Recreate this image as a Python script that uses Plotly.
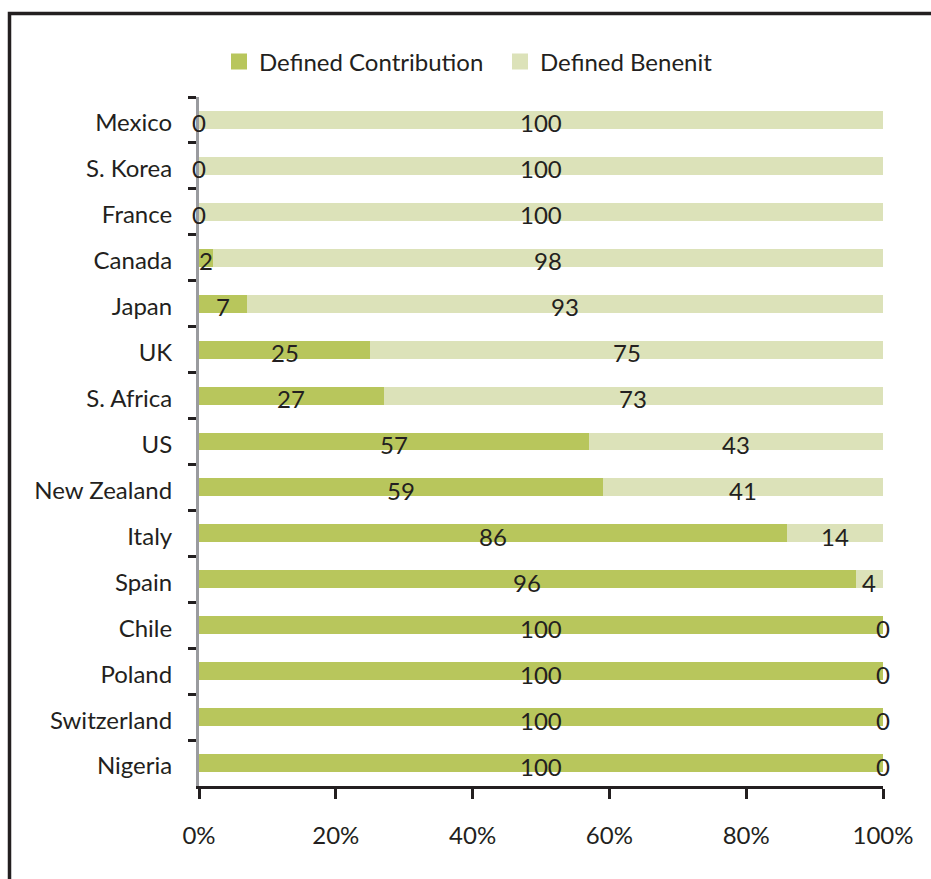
import plotly.graph_objects as go

# Share of pension assets by plan type, per country (percent)
countries = ["Mexico", "S. Korea", "France", "Canada", "Japan", "UK", "S. Africa",
             "US", "New Zealand", "Italy", "Spain", "Chile", "Poland",
             "Switzerland", "Nigeria"]
defined_contribution = [0, 0, 0, 2, 7, 25, 27, 57, 59, 86, 96, 100, 100, 100, 100]
defined_benefit = [100, 100, 100, 98, 93, 75, 73, 43, 41, 14, 4, 0, 0, 0, 0]
x_ticks = [0, 20, 40, 60, 80, 100]
x_tick_labels = ["0%", "20%", "40%", "60%", "80%", "100%"]
series_names = ["Defined Contribution", "Defined Benenit"]

DC_COLOR = "#B8C65C"
DB_COLOR = "#DCE2B9"
TEXT = "#231F20"
FONT = "Lato"
FS = 24

W, H = 931, 879
ML, MR, MT, MB = 199, 48, 97, 93
pw, ph = W - ML - MR, H - MT - MB

fig = go.Figure()
for name, vals, col in ((series_names[0], defined_contribution, DC_COLOR),
                        (series_names[1], defined_benefit, DB_COLOR)):
    fig.add_trace(go.Bar(y=countries, x=vals, orientation="h", name=name,
                         marker=dict(color=col, line_width=0), showlegend=False))

# value labels centred on each segment
dc_mid = [v / 2 for v in defined_contribution]
db_mid = [c + b / 2 for c, b in zip(defined_contribution, defined_benefit)]
for xs, vals in ((dc_mid, defined_contribution), (db_mid, defined_benefit)):
    for x, y, v in zip(xs, countries, vals):
        fig.add_annotation(x=x, y=y, text=str(v), showarrow=False,
                           xanchor="center", yanchor="middle", yshift=-3,
                           font=dict(family=FONT, size=FS, color=TEXT))

# legend entries with square swatches
for name, col in ((series_names[0], DC_COLOR), (series_names[1], DB_COLOR)):
    fig.add_trace(go.Scatter(x=[None], y=[None], mode="markers", name=name,
                             marker=dict(symbol="square", size=16, color=col),
                             showlegend=True))

# outer frame (extends past the right and bottom edges)
fx0 = (9.5 - ML) / pw
fy1 = 1 + (MT - 13.5) / ph
fig.add_shape(type="rect", xref="paper", yref="paper", x0=fx0, x1=3, y0=-3, y1=fy1,
              line=dict(color=TEXT, width=3.5), fillcolor="rgba(0,0,0,0)", layer="below")

fig.update_layout(
    width=W, height=H,
    margin=dict(l=ML, r=MR, t=MT, b=MB),
    barmode="stack", bargap=0.61,
    plot_bgcolor="white", paper_bgcolor="white",
    font=dict(family=FONT, size=FS, color=TEXT),
    legend=dict(orientation="h", x=(219 - ML) / pw, xanchor="left",
                y=1 + (MT - 62) / ph, yanchor="middle",
                font=dict(family=FONT, size=FS, color=TEXT),
                entrywidth=236, entrywidthmode="pixels",
                traceorder="normal"),
    showlegend=True,
    xaxis=dict(range=[0, 100], tickvals=x_ticks, ticktext=x_tick_labels,
               showgrid=False, zeroline=False, showline=True, linecolor=TEXT,
               linewidth=3, ticks="outside", ticklen=10, tickwidth=3,
               tickcolor=TEXT, ticklabelstandoff=16,
               tickfont=dict(family=FONT, size=FS, color=TEXT)),
    yaxis=dict(categoryorder="array", categoryarray=countries,
               range=[14.5, -0.5], showgrid=False, zeroline=False,
               showline=True, linecolor="#9A9B9F", linewidth=3,
               ticks="outside", tickson="boundaries", ticklen=8, tickwidth=3,
               tickcolor=TEXT, ticklabelstandoff=19, ticklabelshift=-3,
               tickfont=dict(family=FONT, size=FS, color=TEXT)),
)

fig.write_html("out.html")
